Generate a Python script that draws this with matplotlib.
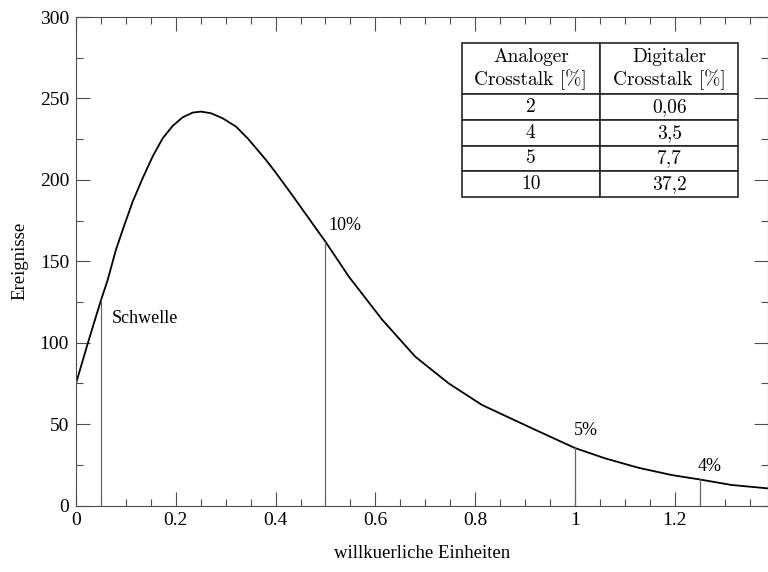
import numpy as np
import matplotlib
matplotlib.use("Agg")
import matplotlib.pyplot as plt
from matplotlib.ticker import MultipleLocator, FuncFormatter

plt.rcParams['font.family'] = ['Liberation Serif', 'DejaVu Serif']
plt.rcParams['font.size'] = 13.5

# curve
x_curve = [0.0, 0.025, 0.05, 0.0635, 0.080, 0.097, 0.1136, 0.1336, 0.1536,
           0.1737, 0.1937, 0.2138, 0.2338, 0.2505, 0.2705, 0.294, 0.3206,
           0.344, 0.3607, 0.38, 0.399, 0.432, 0.466,
           0.5, 0.547, 0.614, 0.68, 0.747, 0.814, 0.914, 1.0, 1.06, 1.127,
           1.194, 1.25, 1.314, 1.387]
y_curve = [75, 101, 126, 138.5, 157, 172.3, 186.6, 201, 214.3,
           225.5, 233.1, 238.4, 241.3, 241.9, 240.9, 237.8, 232.7,
           225.5, 219.5, 212.5, 205, 191.2, 176.6,
           162, 140.5, 114, 91.4, 75, 61.7, 47.4, 35.3, 29, 23.2,
           18.7, 16, 12.6, 10.5]

# vertical markers
cut_x = [0.05, 0.5, 1.0, 1.25]
cut_y = [126, 162, 35.3, 16]
cut_labels = ["Schwelle", "10%", "5%", "4%"]
label_x = [0.071, 0.506, 0.997, 1.246]
label_y = [115, 172, 46, 24]

# table
table_head = ["Analoger\nCrosstalk [%]", "Digitaler\nCrosstalk [%]"]
analog = ["2", "4", "5", "10"]
digital = ["0,06", "3,5", "7,7", "37,2"]

W, H = 768, 572
fig = plt.figure(figsize=(W / 100, H / 100), dpi=100)
x0, x1, y0, y1 = 76, 768, 505.5, 17
ax = fig.add_axes([x0 / W, (H - y0) / H, (x1 - x0) / W, (y0 - y1) / H])

ax.plot(x_curve, y_curve, color='black', lw=1.3)
for xc, yc in zip(cut_x, cut_y):
    ax.plot([xc, xc], [0, yc], color='0.4', lw=0.9)
for lab, lx, ly in zip(cut_labels, label_x, label_y):
    ax.text(lx, ly, lab, ha='left', va='center', fontsize=13)

ax.set_xlim(0, 1.387)
ax.set_ylim(0, 300)
ax.xaxis.set_major_locator(MultipleLocator(0.2))
ax.xaxis.set_minor_locator(MultipleLocator(0.05))
ax.yaxis.set_major_locator(MultipleLocator(50))
ax.yaxis.set_minor_locator(MultipleLocator(25))
ax.xaxis.set_major_formatter(FuncFormatter(lambda v, p: "%g" % round(v, 2)))
ax.tick_params(which='both', direction='in', top=True, right=True,
               color='0.3', width=0.8, labelsize=14)
ax.tick_params(which='major', length=10, pad=5)
ax.tick_params(which='minor', length=5)
for s in ax.spines.values():
    s.set_color('0.3')
    s.set_linewidth(0.8)

ax.set_xlabel("willkuerliche Einheiten")
ax.set_ylabel("Ereignisse")
ax.xaxis.set_label_coords(0.5, -(553 - y0) / (y0 - y1))
ax.xaxis.label.set_va('center')
ax.yaxis.set_label_coords((20 - x0) / (x1 - x0), 0.5)
ax.yaxis.label.set_va('center')

rows = [table_head] + [[a, d] for a, d in zip(analog, digital)]
tl, tr = (461.7 - x0) / (x1 - x0), (738.3 - x0) / (x1 - x0)
tt, tb = (y0 - 43.3) / (y0 - y1), (y0 - 196.7) / (y0 - y1)
tab = ax.table(cellText=rows, cellLoc='center',
               bbox=[tl, tb, tr - tl, tt - tb])
tab.auto_set_font_size(False)
for (r, c), cell in tab.get_celld().items():
    cell.set_linewidth(1.2)
    cell.set_edgecolor('0.15')
    cell.get_text().set_fontsize(14)
    cell.get_text().set_family(['cmr10', 'DejaVu Serif'])
    if r == 0:
        cell.set_height(cell.get_height() * 2)

fig.savefig("out.png", dpi=100)
